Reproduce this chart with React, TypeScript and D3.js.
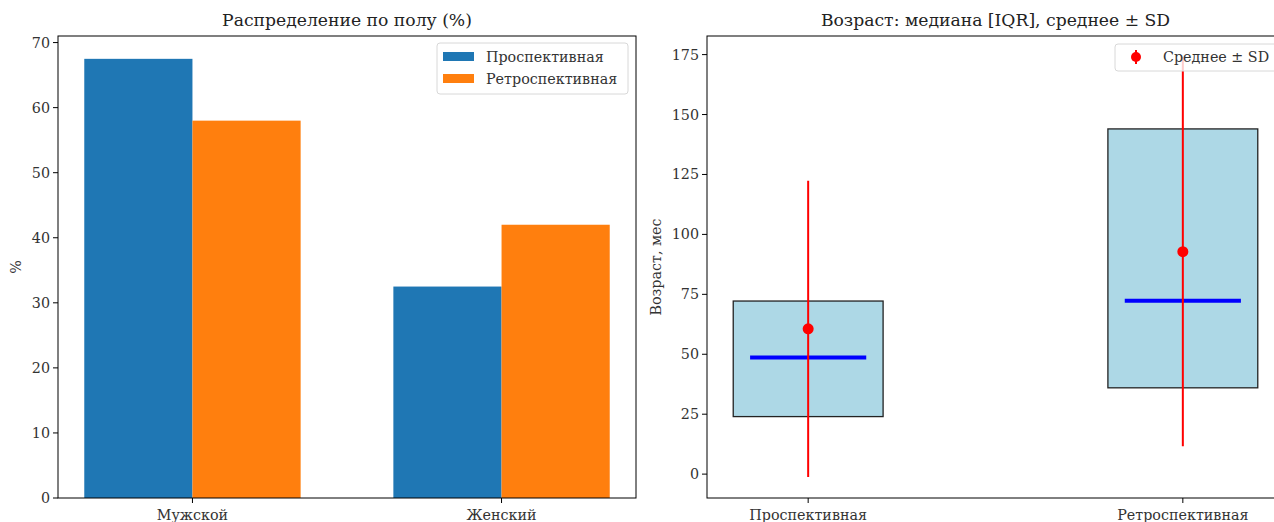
import React from 'react';
import * as d3 from 'd3';

const sexCategories = ['Мужской', 'Женский'];
const prospectiveSex = [67.5, 32.5];
const retrospectiveSex = [58.0, 42.0];
const sexSeries = ['Проспективная', 'Ретроспективная'];
const sexColors = ['#1f77b4', '#ff7f0e'];

const cohorts = ['Проспективная', 'Ретроспективная'];
const ageQ1 = [24, 36];
const ageMedian = [48.7, 72.3];
const ageQ3 = [72.2, 144];
const ageMean = [60.6, 92.8];
const ageSD = [61.8, 81.2];
const ageTicks = [0, 25, 50, 75, 100, 125, 150, 175];
const sexTicks = [0, 10, 20, 30, 40, 50, 60, 70];

const FONT = '"DejaVu Serif", serif';
const W = 1274;
const H = 522;
const TICK_FS = 14.3;
const TITLE_FS = 17.2;

const top = 36;
const bottom = 498;

const SexChart = () => {
  const left = 58;
  const right = 636;
  const barW = 0.35;
  const x = d3.scaleLinear().domain([-0.435, 1.435]).range([left, right]);
  const maxV = d3.max([...prospectiveSex, ...retrospectiveSex]) as number;
  const y = d3.scaleLinear().domain([0, maxV * 1.052]).range([bottom, top]);
  const series = [prospectiveSex, retrospectiveSex];
  return (
    <g>
      <text x={(left + right) / 2} y={26} textAnchor="middle" fontSize={TITLE_FS} fill="#222">
        Распределение по полу (%)
      </text>
      {series.map((vals, s) =>
        vals.map((v, i) => {
          const x0 = s === 0 ? i - barW : i;
          return (
            <rect
              key={`${s}-${i}`}
              x={x(x0)}
              y={y(v)}
              width={x(x0 + barW) - x(x0)}
              height={y(0) - y(v)}
              fill={sexColors[s]}
            />
          );
        })
      )}
      <rect x={left} y={top} width={right - left} height={bottom - top} fill="none" stroke="#000" strokeWidth={1} />
      {sexTicks.map((t) => (
        <g key={t} transform={`translate(0,${y(t)})`}>
          <line x1={left - 5} x2={left} stroke="#000" />
          <text x={left - 8} dy="0.35em" textAnchor="end" fontSize={TICK_FS} fill="#333">
            {t}
          </text>
        </g>
      ))}
      {sexCategories.map((c, i) => (
        <g key={c} transform={`translate(${x(i)},0)`}>
          <line y1={bottom} y2={bottom + 5} stroke="#000" />
          <text y={bottom + 22} textAnchor="middle" fontSize={TICK_FS} fill="#333">
            {c}
          </text>
        </g>
      ))}
      <text transform={`translate(21,${(top + bottom) / 2}) rotate(-90)`} textAnchor="middle" fontSize={TICK_FS} fill="#333">
        %
      </text>
      <g transform="translate(437,43)">
        <rect width={191} height={51} rx={3} fill="#fff" fillOpacity={0.8} stroke="#d8d8d8" />
        {sexSeries.map((s, i) => (
          <g key={s} transform={`translate(0,${i * 22})`}>
            <rect x={6} y={9} width={31} height={9} fill={sexColors[i]} />
            <text x={49} y={13.5} dy="0.35em" fontSize={TICK_FS} fill="#333">
              {s}
            </text>
          </g>
        ))}
      </g>
    </g>
  );
};

const AgeChart = () => {
  const left = 707;
  const right = 1284;
  const boxW = 0.4;
  const medW = 0.31;
  const x = d3.scaleLinear().domain([-0.27, 1.27]).range([left, right]);
  const lows = ageMean.map((m, i) => m - ageSD[i]);
  const highs = ageMean.map((m, i) => m + ageSD[i]);
  const lo = d3.min(lows) as number;
  const hi = d3.max(highs) as number;
  const pad = (hi - lo) * 0.05;
  const y = d3.scaleLinear().domain([lo - pad, hi + pad]).range([bottom, top]);
  return (
    <g>
      <text x={(left + right) / 2} y={26} textAnchor="middle" fontSize={TITLE_FS} fill="#222">
        Возраст: медиана [IQR], среднее ± SD
      </text>
      {cohorts.map((c, i) => (
        <g key={c}>
          <rect
            x={x(i - boxW / 2)}
            y={y(ageQ3[i])}
            width={x(i + boxW / 2) - x(i - boxW / 2)}
            height={y(ageQ1[i]) - y(ageQ3[i])}
            fill="#add8e6"
            stroke="#222"
            strokeWidth={1.3}
          />
          <line
            x1={x(i - medW / 2)}
            x2={x(i + medW / 2)}
            y1={y(ageMedian[i])}
            y2={y(ageMedian[i])}
            stroke="#0000ff"
            strokeWidth={4}
          />
          <line x1={x(i)} x2={x(i)} y1={y(lows[i])} y2={y(highs[i])} stroke="#ff0000" strokeWidth={2} />
          <circle cx={x(i)} cy={y(ageMean[i])} r={5.5} fill="#ff0000" />
        </g>
      ))}
      <rect x={left} y={top} width={right - left} height={bottom - top} fill="none" stroke="#000" strokeWidth={1} />
      {ageTicks.map((t) => (
        <g key={t} transform={`translate(0,${y(t)})`}>
          <line x1={left - 5} x2={left} stroke="#000" />
          <text x={left - 8} dy="0.35em" textAnchor="end" fontSize={TICK_FS} fill="#333">
            {t}
          </text>
        </g>
      ))}
      {cohorts.map((c, i) => (
        <g key={c} transform={`translate(${x(i)},0)`}>
          <line y1={bottom} y2={bottom + 5} stroke="#000" />
          <text y={bottom + 22} textAnchor="middle" fontSize={TICK_FS} fill="#333">
            {c}
          </text>
        </g>
      ))}
      <text transform={`translate(661,${(top + bottom) / 2}) rotate(-90)`} textAnchor="middle" fontSize={TICK_FS} fill="#333">
        Возраст, мес
      </text>
      <g transform="translate(1115,44)">
        <rect width={162} height={27} rx={3} fill="#fff" fillOpacity={0.8} stroke="#d8d8d8" />
        <line x1={21} x2={21} y1={6} y2={20} stroke="#ff0000" strokeWidth={2} />
        <circle cx={21} cy={13} r={5} fill="#ff0000" />
        <text x={48} y={13} dy="0.35em" fontSize={TICK_FS} fill="#333">
          Среднее ± SD
        </text>
      </g>
    </g>
  );
};

export default function App() {
  return (
    <div style={{ position: 'absolute', left: 0, top: 0 }}>
      <svg width={W} height={H} style={{ display: 'block', fontFamily: FONT, background: '#fff' }}>
        <rect width={W} height={H} fill="#fff" />
        <SexChart />
        <AgeChart />
      </svg>
    </div>
  );
}
